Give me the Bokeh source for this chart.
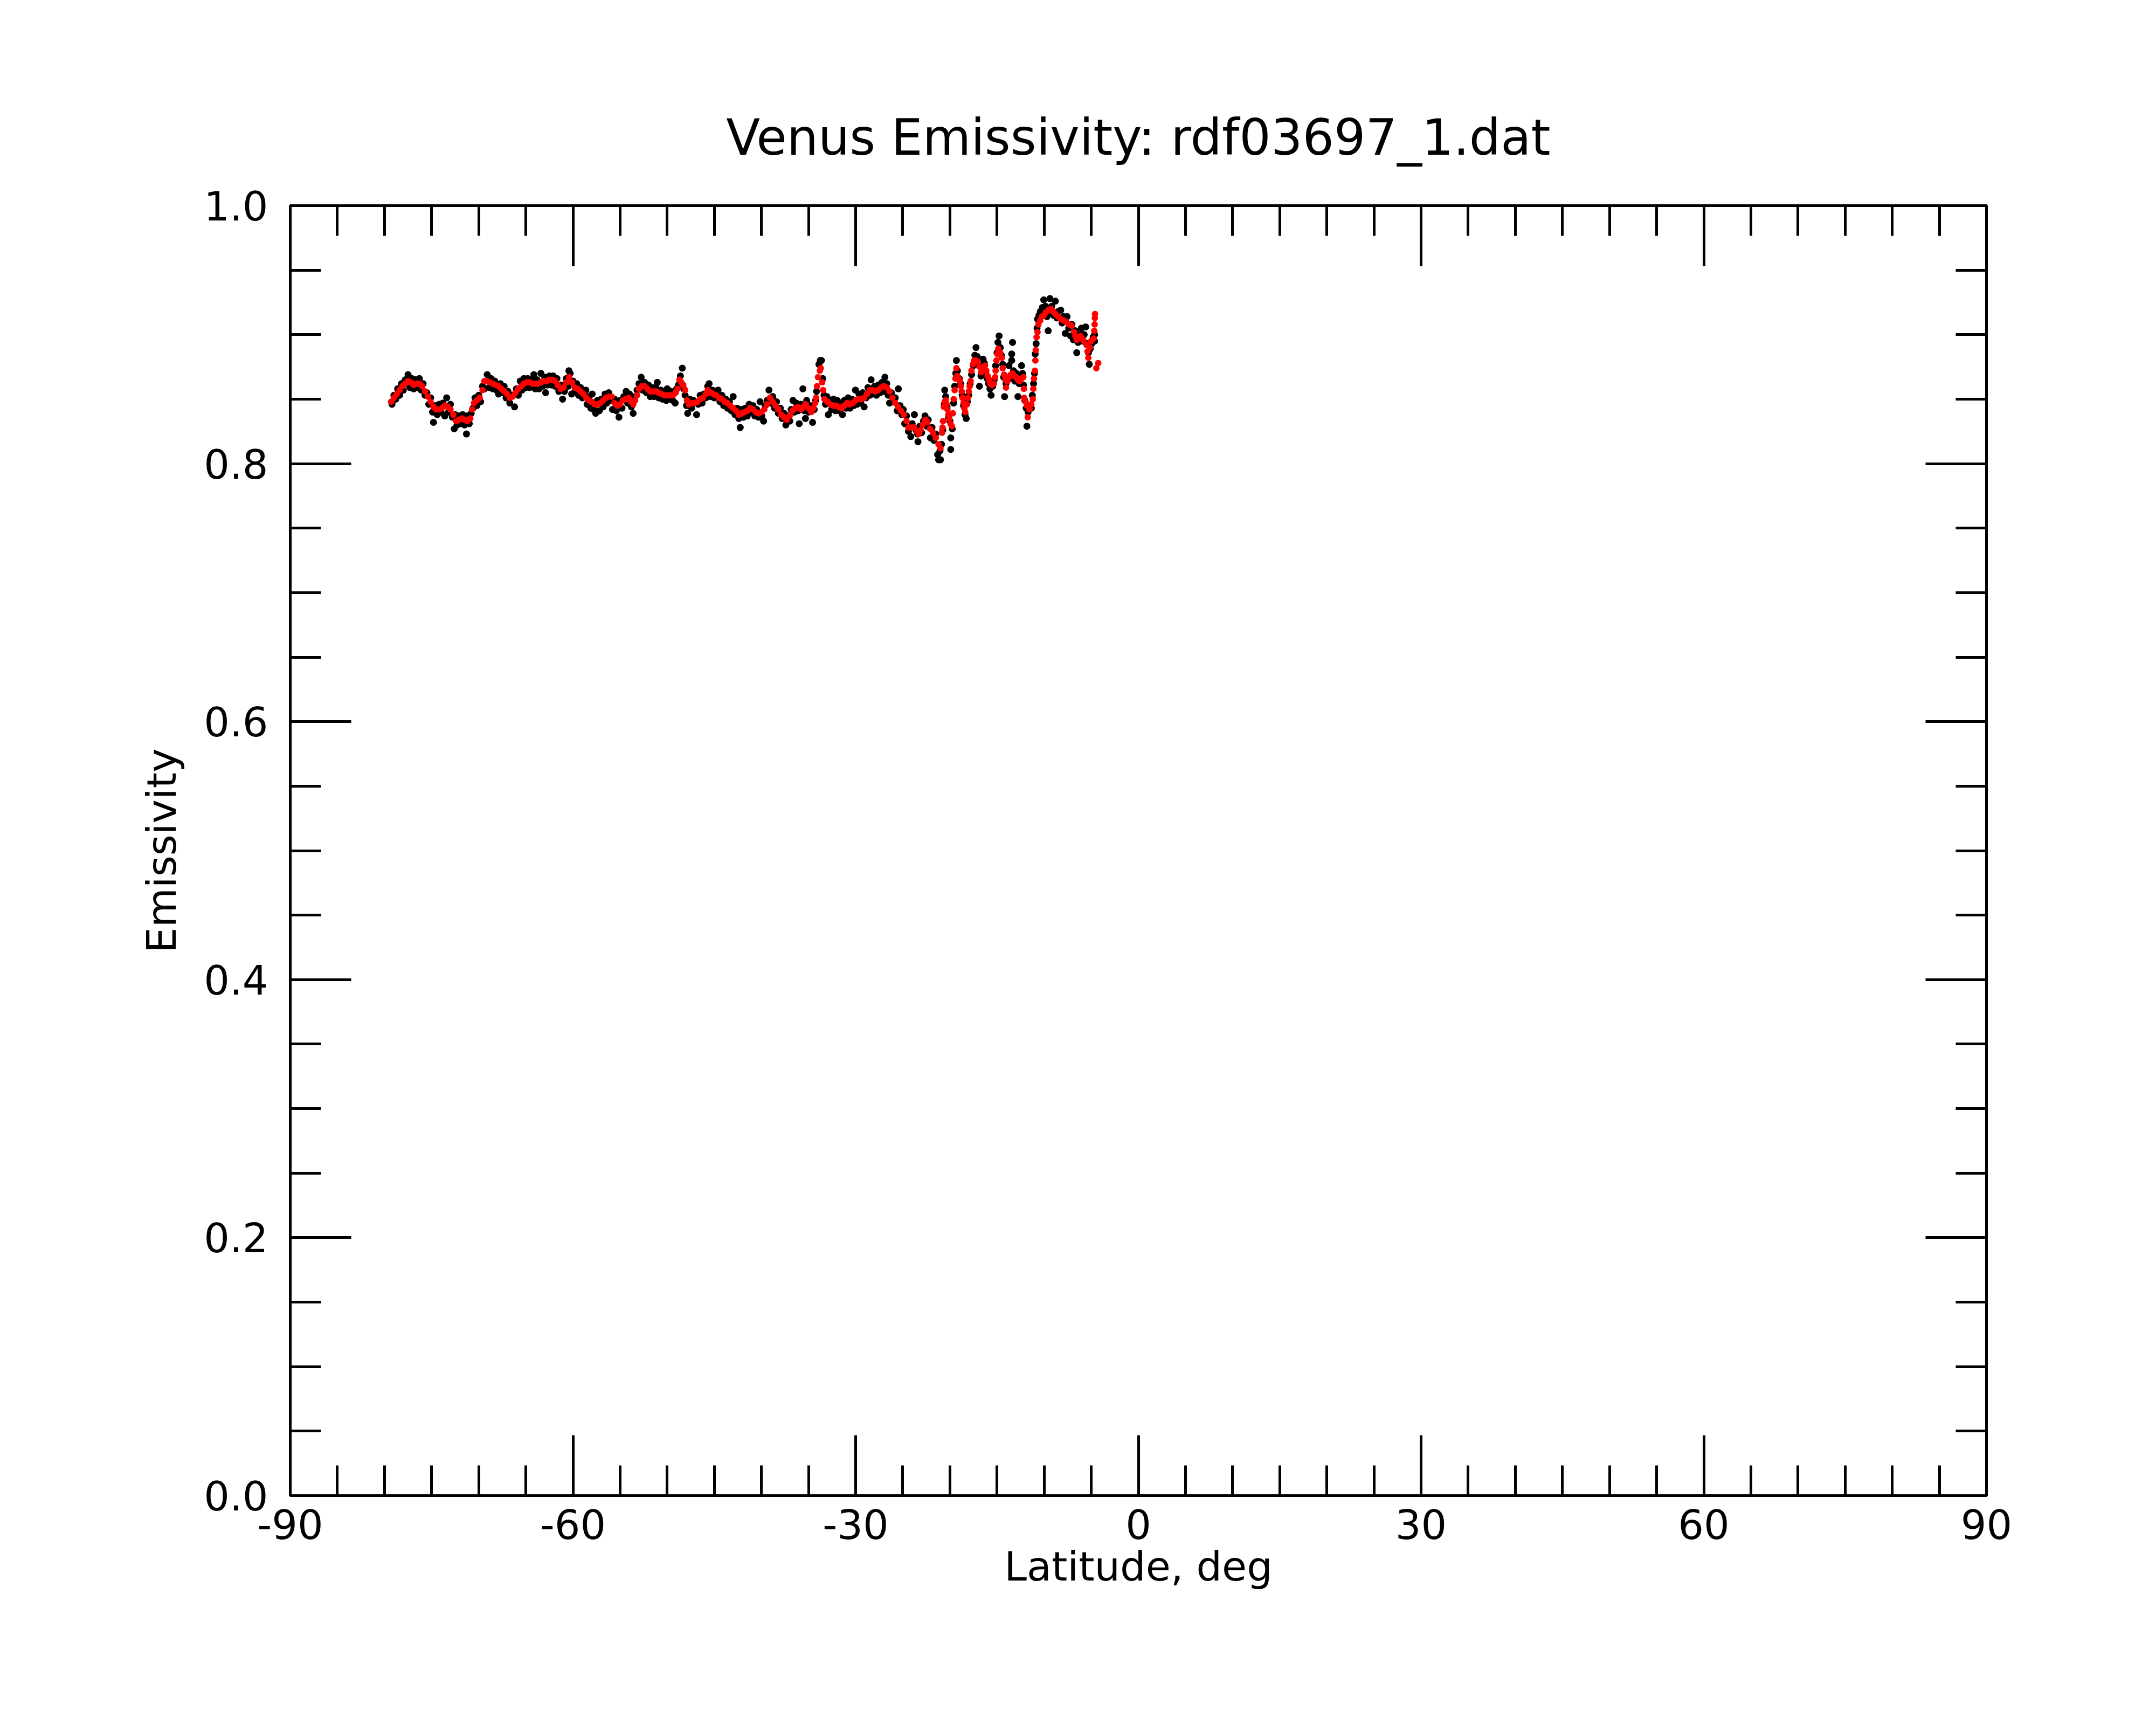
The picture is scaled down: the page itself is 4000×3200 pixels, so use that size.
from bokeh.plotting import figure
from bokeh.models import LinearAxis, FixedTicker, Range1d, PrintfTickFormatter
from bokeh.embed import file_html
from bokeh.resources import INLINE

FONT = "DejaVu Sans"

TITLE = "Venus Emissivity: rdf03697_1.dat"
X_LABEL = "Latitude, deg"
Y_LABEL = "Emissivity"
X_TICKS = [-90, -60, -30, 0, 30, 60, 90]
X_MINOR = [-90, -85, -80, -75, -70, -65, -60, -55, -50, -45, -40, -35, -30, -25, -20, -15, -10, -5,
           0, 5, 10, 15, 20, 25, 30, 35, 40, 45, 50, 55, 60, 65, 70, 75, 80, 85, 90]
Y_TICKS = [0.0, 0.2, 0.4, 0.6, 0.8, 1.0]
Y_MINOR = [0.0, 0.05, 0.1, 0.15, 0.2, 0.25, 0.3, 0.35, 0.4, 0.45, 0.5, 0.55, 0.6, 0.65, 0.7,
           0.75, 0.8, 0.85, 0.9, 0.95, 1.0]

# raw emissivity samples (black)
BLK_LAT = [
    -79.2, -79.0, -78.8, -78.6, -78.4, -78.2, -78.0, -77.8, -77.6, -77.5, -77.3, -77.1, -76.9, -76.7,
    -76.5, -76.3, -76.1, -75.9, -75.7, -75.5, -75.3, -75.1, -74.9, -74.8, -74.6, -74.4, -74.2, -74.0,
    -73.8, -73.6, -73.4, -73.2, -73.0, -72.8, -72.6, -72.5, -72.3, -72.1, -71.9, -71.7, -71.5, -71.3,
    -71.2, -71.0, -70.8, -70.6, -70.4, -70.2, -70.0, -69.8, -69.6, -69.4, -69.1, -68.9, -68.7, -68.5,
    -68.3, -68.1, -67.9, -67.7, -67.5, -67.3, -67.1, -66.9, -66.7, -66.5, -66.2, -66.0, -65.8, -65.6,
    -65.4, -65.2, -65.0, -64.8, -64.6, -64.4, -64.15, -64.0, -63.8, -63.6, -63.4, -63.2, -63.0, -62.9,
    -62.7, -62.5, -62.3, -62.1, -61.9, -61.7, -61.5, -61.3, -61.1, -60.9, -60.7, -60.5, -60.43, -60.3,
    -60.14, -60.0, -59.8, -59.6, -59.4, -59.2, -59.0, -58.8, -58.63, -58.5, -58.3, -58.1, -57.96, -57.8,
    -57.59, -57.4, -57.2, -57.0, -56.8, -56.6, -56.4, -56.2, -56.0, -55.8, -55.6, -55.4, -55.12, -55.0,
    -54.8, -54.6, -54.36, -54.2, -54.0, -53.8, -53.61, -53.4, -53.2, -53.0, -52.76, -52.6, -52.4, -52.2,
    -52.0, -51.8, -51.6, -51.4, -51.2, -51.05, -50.9, -50.7, -50.5, -50.3, -50.1, -50.0, -49.8, -49.6,
    -49.4, -49.15, -49.0, -48.8, -48.6, -48.4, -48.25, -48.1, -47.95, -47.83, -47.6, -47.4, -47.2, -46.88,
    -46.7, -46.5, -46.3, -46.1, -45.9, -45.7, -45.55, -45.4, -45.2, -45.0, -44.8, -44.6, -44.4, -44.2,
    -44.0, -43.8, -43.6, -43.4, -43.2, -43.0, -42.8, -42.6, -42.4, -42.25, -42.1, -41.9, -41.7, -41.5,
    -41.3, -41.1, -40.9, -40.7, -40.5, -40.3, -40.15, -39.95, -39.77, -39.6, -39.4, -39.2, -39.0, -38.8,
    -38.6, -38.4, -38.2, -38.0, -37.8, -37.6, -37.41, -37.2, -37.0, -36.85, -36.65, -36.5, -36.3, -36.1,
    -35.99, -35.8, -35.6, -35.45, -35.33, -35.2, -35.0, -34.8, -34.57, -34.4, -34.25, -34.15, -33.9, -33.75,
    -33.63, -33.5, -33.35, -33.2, -33.05, -32.9, -32.75, -32.55, -32.35, -32.15, -31.95, -31.75, -31.55, -31.4,
    -31.2, -31.0, -30.8, -30.6, -30.4, -30.2, -30.02, -29.85, -29.65, -29.45, -29.25, -29.1, -28.9, -28.7,
    -28.5, -28.36, -28.2, -28.0, -27.8, -27.6, -27.4, -27.2, -27.05, -26.9, -26.7, -26.55, -26.4, -26.2,
    -26.0, -25.8, -25.6, -25.47, -25.3, -25.1, -24.95, -24.8, -24.6, -24.4, -24.15, -24.0, -23.77, -23.6,
    -23.45, -23.39, -23.2, -23.0, -22.8, -22.64, -22.45, -22.3, -22.07, -21.9, -21.7, -21.5, -21.3, -21.2,
    -21.05, -21.0, -20.9, -20.75, -20.6, -20.55, -20.45, -20.3, -20.15, -20.0, -19.91, -19.91, -19.75, -19.6,
    -19.5, -19.38, -19.31, -19.2, -19.0, -18.85, -18.7, -18.55, -18.4, -18.27, -18.15, -18.0, -17.85, -17.7,
    -17.5, -17.35, -17.23, -17.1, -16.95, -16.86, -16.7, -16.55, -16.48, -16.35, -16.2, -16.05, -15.9, -15.75,
    -15.63, -15.45, -15.3, -15.15, -15.0, -14.9, -14.78, -14.65, -14.55, -14.4, -14.3, -14.2, -14.05, -13.9,
    -13.73, -13.6, -13.44, -13.44, -13.35, -13.25, -13.1, -12.95, -12.78, -12.65, -12.5, -12.4, -12.3, -12.2,
    -12.05, -11.9, -11.83, -11.7, -11.5, -11.36, -11.25, -11.12, -11.02, -10.95, -10.85, -10.75, -10.7, -10.55,
    -10.4, -10.2, -10.04, -9.85, -9.7, -9.57, -9.45, -9.38, -9.2, -9.0, -8.81, -8.65, -8.5, -8.24,
    -8.1, -7.95, -7.76, -7.57, -7.4, -7.19, -7.05, -6.9, -6.7, -6.54, -6.4, -6.2, -6.05, -5.9,
    -5.75, -5.59, -5.45, -5.3, -5.21, -5.1, -4.95, -4.8, -4.64, -4.64,
]
BLK_EMIS = [
    0.846, 0.853, 0.850, 0.858, 0.853, 0.862, 0.857, 0.865, 0.862, 0.869, 0.859, 0.866, 0.858, 0.865,
    0.859, 0.866, 0.857, 0.862, 0.853, 0.855, 0.846, 0.851, 0.840, 0.832, 0.845, 0.838, 0.846, 0.840,
    0.847, 0.837, 0.851, 0.840, 0.846, 0.836, 0.827, 0.838, 0.830, 0.837, 0.831, 0.838, 0.830, 0.823,
    0.837, 0.831, 0.839, 0.843, 0.851, 0.845, 0.853, 0.848, 0.860, 0.858, 0.869, 0.859, 0.866, 0.858,
    0.864, 0.857, 0.854, 0.862, 0.855, 0.860, 0.851, 0.856, 0.847, 0.853, 0.844, 0.858, 0.853, 0.864,
    0.857, 0.866, 0.859, 0.866, 0.859, 0.865, 0.869, 0.858, 0.865, 0.858, 0.870, 0.860, 0.867, 0.855,
    0.861, 0.868, 0.861, 0.868, 0.860, 0.866, 0.856, 0.861, 0.850, 0.856, 0.866, 0.860, 0.872, 0.870,
    0.854, 0.864, 0.856, 0.862, 0.853, 0.859, 0.851, 0.856, 0.857, 0.846, 0.852, 0.843, 0.854, 0.842,
    0.839, 0.849, 0.841, 0.850, 0.844, 0.854, 0.847, 0.855, 0.849, 0.842, 0.850, 0.841, 0.836, 0.849,
    0.843, 0.852, 0.856, 0.847, 0.854, 0.844, 0.839, 0.852, 0.857, 0.862, 0.867, 0.857, 0.863, 0.855,
    0.861, 0.852, 0.859, 0.852, 0.859, 0.863, 0.851, 0.857, 0.850, 0.856, 0.849, 0.858, 0.850, 0.856,
    0.849, 0.847, 0.858, 0.861, 0.868, 0.874, 0.858, 0.853, 0.845, 0.839, 0.850, 0.843, 0.849, 0.838,
    0.846, 0.853, 0.847, 0.854, 0.851, 0.860, 0.862, 0.852, 0.857, 0.851, 0.856, 0.857, 0.848, 0.853,
    0.845, 0.850, 0.843, 0.848, 0.841, 0.852, 0.838, 0.843, 0.835, 0.828, 0.842, 0.836, 0.843, 0.837,
    0.846, 0.840, 0.845, 0.837, 0.842, 0.836, 0.848, 0.837, 0.833, 0.845, 0.849, 0.857, 0.847, 0.852,
    0.843, 0.848, 0.839, 0.843, 0.835, 0.839, 0.830, 0.837, 0.833, 0.842, 0.849, 0.840, 0.847, 0.841,
    0.831, 0.846, 0.858, 0.841, 0.835, 0.849, 0.840, 0.845, 0.832, 0.842, 0.849, 0.856, 0.877, 0.880,
    0.880, 0.866, 0.853, 0.846, 0.852, 0.838, 0.849, 0.842, 0.850, 0.841, 0.849, 0.841, 0.847, 0.838,
    0.849, 0.843, 0.851, 0.843, 0.850, 0.845, 0.857, 0.846, 0.854, 0.847, 0.855, 0.844, 0.851, 0.859,
    0.853, 0.865, 0.854, 0.860, 0.853, 0.861, 0.855, 0.863, 0.856, 0.867, 0.862, 0.853, 0.847, 0.855,
    0.848, 0.851, 0.841, 0.858, 0.845, 0.838, 0.842, 0.831, 0.837, 0.825, 0.821, 0.831, 0.838, 0.826,
    0.823, 0.817, 0.829, 0.824, 0.833, 0.837, 0.829, 0.834, 0.820, 0.828, 0.818, 0.823, 0.807, 0.803,
    0.810, 0.803, 0.815, 0.826, 0.846, 0.857, 0.852, 0.844, 0.836, 0.833, 0.820, 0.811, 0.827, 0.847,
    0.860, 0.870, 0.880, 0.872, 0.866, 0.862, 0.853, 0.845, 0.838, 0.835, 0.848, 0.853, 0.862, 0.869,
    0.876, 0.884, 0.890, 0.883, 0.876, 0.860, 0.868, 0.873, 0.881, 0.878, 0.870, 0.866, 0.862, 0.858,
    0.853, 0.860, 0.865, 0.876, 0.886, 0.894, 0.899, 0.890, 0.884, 0.877, 0.867, 0.852, 0.862, 0.866,
    0.876, 0.866, 0.880, 0.885, 0.894, 0.872, 0.864, 0.870, 0.852, 0.862, 0.868, 0.876, 0.870, 0.861,
    0.849, 0.843, 0.829, 0.840, 0.845, 0.843, 0.853, 0.862, 0.870, 0.885, 0.893, 0.905, 0.912, 0.915,
    0.918, 0.921, 0.927, 0.922, 0.914, 0.903, 0.918, 0.928, 0.922, 0.915, 0.926, 0.913, 0.918, 0.919,
    0.909, 0.914, 0.901, 0.914, 0.905, 0.899, 0.908, 0.896, 0.903, 0.886, 0.894, 0.900, 0.905, 0.895,
    0.900, 0.906, 0.893, 0.886, 0.877, 0.889, 0.893, 0.898, 0.900, 0.895,
]

# smoothed emissivity (red)
RED_LAT = [
    -79.3, -79.0, -78.7, -78.4, -78.1, -77.8, -77.5, -77.2, -76.9, -76.6, -76.3, -76.0, -75.7, -75.4,
    -75.1, -74.8, -74.5, -74.2, -73.9, -73.6, -73.3, -73.0, -72.7, -72.4, -72.1, -71.8, -71.5, -71.2,
    -70.9, -70.7, -70.5, -70.2, -69.9, -69.6, -69.4, -69.1, -68.8, -68.5, -68.2, -67.9, -67.6, -67.3,
    -67.0, -66.7, -66.4, -66.1, -65.8, -65.5, -65.2, -64.9, -64.6, -64.3, -64.0, -63.7, -63.4, -63.1,
    -62.8, -62.5, -62.2, -61.9, -61.6, -61.3, -61.0, -60.7, -60.4, -60.1, -59.8, -59.5, -59.2, -58.9,
    -58.6, -58.3, -58.0, -57.7, -57.4, -57.1, -56.8, -56.5, -56.2, -55.9, -55.6, -55.3, -55.0, -54.7,
    -54.4, -54.1, -53.8, -53.6, -53.4, -53.2, -53.0, -52.7, -52.4, -52.1, -51.8, -51.5, -51.2, -50.9,
    -50.6, -50.3, -50.0, -49.7, -49.4, -49.1, -48.9, -48.7, -48.5, -48.3, -48.1, -47.9, -47.7, -47.4,
    -47.1, -46.8, -46.5, -46.2, -45.9, -45.7, -45.4, -45.1, -44.8, -44.5, -44.2, -43.9, -43.6, -43.3,
    -43.0, -42.7, -42.4, -42.1, -41.8, -41.5, -41.2, -40.9, -40.6, -40.3, -40.0, -39.7, -39.4, -39.1,
    -38.8, -38.5, -38.2, -37.9, -37.6, -37.3, -37.0, -36.7, -36.4, -36.1, -35.8, -35.5, -35.3, -35.0,
    -34.7, -34.5, -34.3, -34.2, -34.1, -34.0, -33.8, -33.7, -33.55, -33.45, -33.3, -33.0, -32.7, -32.4,
    -32.1, -31.8, -31.5, -31.2, -30.9, -30.6, -30.3, -30.0, -29.7, -29.4, -29.1, -28.8, -28.5, -28.2,
    -27.9, -27.6, -27.3, -27.0, -26.7, -26.4, -26.1, -25.8, -25.5, -25.2, -24.9, -24.6, -24.4, -24.1,
    -23.8, -23.5, -23.3, -23.1, -22.9, -22.6, -22.4, -22.1, -21.8, -21.5, -21.2, -21.0, -20.83, -20.78,
    -20.73, -20.64, -20.55, -20.45, -20.35, -20.26, -20.17, -20.07, -19.93, -19.79, -19.69, -19.6, -19.5, -19.41,
    -19.31, -19.22, -19.08, -18.94, -18.85, -18.75, -18.66, -18.56, -18.47, -18.37, -18.18, -18.08, -17.99, -17.9,
    -17.8, -17.71, -17.55, -17.42, -17.25, -17.05, -16.86, -16.67, -16.48, -16.28, -16.14, -16.0, -15.86, -15.72,
    -15.53, -15.34, -15.2, -15.15, -15.06, -14.96, -14.87, -14.68, -14.49, -14.4, -14.25, -14.11, -14.05, -13.9,
    -13.73, -13.55, -13.35, -13.16, -12.97, -12.78, -12.59, -12.4, -12.21, -12.15, -12.12, -11.97, -11.83, -11.74,
    -11.55, -11.36, -11.2, -11.15, -11.08, -10.98, -10.93, -10.89, -10.8, -10.7, -10.61, -10.42, -10.23, -10.04,
    -9.85, -9.56, -9.28, -9.05, -8.81, -8.52, -8.24, -7.95, -7.67, -7.38, -7.1, -6.82, -6.68, -6.54,
    -6.35, -6.16, -5.97, -5.78, -5.5, -5.4, -5.31, -5.15, -5.02, -4.74, -4.68, -4.64, -4.62, -4.6,
    -4.46, -4.26,
]
RED_EMIS = [
    0.848, 0.851, 0.854, 0.857, 0.860, 0.862, 0.864, 0.863, 0.861, 0.862, 0.862, 0.860, 0.856, 0.852,
    0.848, 0.844, 0.842, 0.842, 0.843, 0.845, 0.844, 0.842, 0.838, 0.833, 0.834, 0.835, 0.834, 0.833,
    0.835, 0.842, 0.847, 0.849, 0.851, 0.857, 0.864, 0.864, 0.863, 0.862, 0.861, 0.860, 0.858, 0.856,
    0.854, 0.851, 0.852, 0.855, 0.858, 0.860, 0.862, 0.863, 0.863, 0.862, 0.862, 0.862, 0.863, 0.864,
    0.864, 0.865, 0.865, 0.864, 0.861, 0.858, 0.859, 0.863, 0.867, 0.863, 0.859, 0.858, 0.856, 0.854,
    0.851, 0.849, 0.848, 0.846, 0.846, 0.847, 0.849, 0.851, 0.852, 0.852, 0.847, 0.845, 0.846, 0.849,
    0.850, 0.851, 0.848, 0.846, 0.849, 0.853, 0.858, 0.860, 0.860, 0.858, 0.856, 0.856, 0.856, 0.855,
    0.854, 0.853, 0.853, 0.853, 0.853, 0.855, 0.858, 0.865, 0.863, 0.861, 0.857, 0.849, 0.846, 0.847,
    0.847, 0.848, 0.850, 0.851, 0.854, 0.857, 0.855, 0.854, 0.853, 0.851, 0.850, 0.848, 0.847, 0.845,
    0.843, 0.841, 0.838, 0.839, 0.840, 0.841, 0.843, 0.842, 0.840, 0.839, 0.840, 0.842, 0.846, 0.851,
    0.848, 0.845, 0.842, 0.838, 0.836, 0.834, 0.837, 0.841, 0.843, 0.844, 0.842, 0.844, 0.846, 0.843,
    0.840, 0.843, 0.847, 0.851, 0.860, 0.867, 0.872, 0.874, 0.863, 0.857, 0.850, 0.848, 0.846, 0.845,
    0.845, 0.844, 0.843, 0.845, 0.847, 0.846, 0.847, 0.849, 0.850, 0.850, 0.851, 0.854, 0.857, 0.857,
    0.856, 0.857, 0.859, 0.860, 0.859, 0.856, 0.851, 0.847, 0.844, 0.841, 0.838, 0.833, 0.828, 0.828,
    0.828, 0.825, 0.823, 0.826, 0.830, 0.834, 0.832, 0.827, 0.824, 0.820, 0.815, 0.812, 0.824, 0.828,
    0.833, 0.844, 0.848, 0.849, 0.846, 0.842, 0.838, 0.835, 0.831, 0.829, 0.839, 0.850, 0.857, 0.866,
    0.874, 0.868, 0.866, 0.864, 0.860, 0.856, 0.851, 0.847, 0.843, 0.840, 0.846, 0.851, 0.856, 0.860,
    0.864, 0.872, 0.877, 0.880, 0.880, 0.879, 0.875, 0.871, 0.874, 0.876, 0.872, 0.868, 0.865, 0.862,
    0.861, 0.862, 0.867, 0.872, 0.880, 0.885, 0.889, 0.886, 0.882, 0.874, 0.869, 0.865, 0.859, 0.864,
    0.867, 0.869, 0.870, 0.868, 0.867, 0.865, 0.864, 0.866, 0.867, 0.858, 0.851, 0.848, 0.845, 0.836,
    0.842, 0.846, 0.850, 0.858, 0.866, 0.872, 0.880, 0.888, 0.898, 0.902, 0.908, 0.911, 0.914, 0.915,
    0.917, 0.919, 0.920, 0.918, 0.916, 0.914, 0.912, 0.911, 0.910, 0.908, 0.907, 0.902, 0.899, 0.896,
    0.898, 0.899, 0.897, 0.895, 0.892, 0.887, 0.882, 0.890, 0.895, 0.897, 0.903, 0.908, 0.913, 0.916,
    0.874, 0.878,
]

p = figure(width=3984, height=3184, output_backend="svg", toolbar_location=None,
           x_range=Range1d(-90, 90), y_range=Range1d(0, 1),
           x_axis_location=None, y_axis_location=None,
           min_border_left=538, min_border_right=299, min_border_top=381, min_border_bottom=410)
p.grid.visible = False
p.background_fill_color = "white"
p.border_fill_color = "white"
p.outline_line_color = "black"
p.outline_line_width = 5

p.title.text = TITLE
p.title.align = "center"
p.title.text_font = FONT
p.title.text_font_size = "92px"
p.title.text_font_style = "normal"
p.title.text_color = "black"
p.title.standoff = 145


def style_axis(ax, major_len, minor_len):
    ax.axis_line_color = "black"
    ax.axis_line_width = 5
    ax.major_tick_in = major_len
    ax.major_tick_out = 0
    ax.minor_tick_in = minor_len
    ax.minor_tick_out = 0
    ax.major_tick_line_width = 5
    ax.minor_tick_line_width = 5
    ax.major_tick_line_color = "black"
    ax.minor_tick_line_color = "black"
    ax.major_label_text_font = FONT
    ax.major_label_text_font_size = "75px"
    ax.major_label_text_color = "black"
    ax.axis_label_text_font = FONT
    ax.axis_label_text_font_size = "75px"
    ax.axis_label_text_font_style = "normal"
    ax.axis_label_text_color = "black"


# labelled bottom and left axes
xb = LinearAxis(ticker=FixedTicker(ticks=X_TICKS, minor_ticks=X_MINOR),
                formatter=PrintfTickFormatter(format="%d"), axis_label=X_LABEL)
style_axis(xb, 112, 56)
xb.major_label_standoff = 25
xb.axis_label_standoff = 4
p.add_layout(xb, "below")

yl = LinearAxis(ticker=FixedTicker(ticks=Y_TICKS, minor_ticks=Y_MINOR),
                formatter=PrintfTickFormatter(format="%.1f"), axis_label=Y_LABEL)
style_axis(yl, 113, 57)
yl.major_label_standoff = 41
yl.axis_label_standoff = 31
p.add_layout(yl, "left")

# unlabelled tick-only axes on top and right (ticks drawn as "minor" ticks, no labels)
for loc, major, minor, mlen, nlen in (("above", X_TICKS, X_MINOR, 112, 56),
                                     ("right", Y_TICKS, Y_MINOR, 113, 57)):
    a1 = LinearAxis(ticker=FixedTicker(ticks=[], minor_ticks=minor))
    style_axis(a1, 0, nlen)
    a1.axis_line_color = None
    a1.major_label_standoff = 0
    p.add_layout(a1, loc)
    a2 = LinearAxis(ticker=FixedTicker(ticks=[], minor_ticks=major))
    style_axis(a2, 0, mlen)
    a2.axis_line_color = None
    a2.major_label_standoff = 0
    p.add_layout(a2, loc)

p.scatter(x=BLK_LAT, y=BLK_EMIS, marker="circle", size=13, fill_color="black", line_color=None)
p.scatter(x=RED_LAT, y=RED_EMIS, marker="circle", size=12, fill_color="red", line_color=None)

open("out.html", "w").write(file_html(p, INLINE))
